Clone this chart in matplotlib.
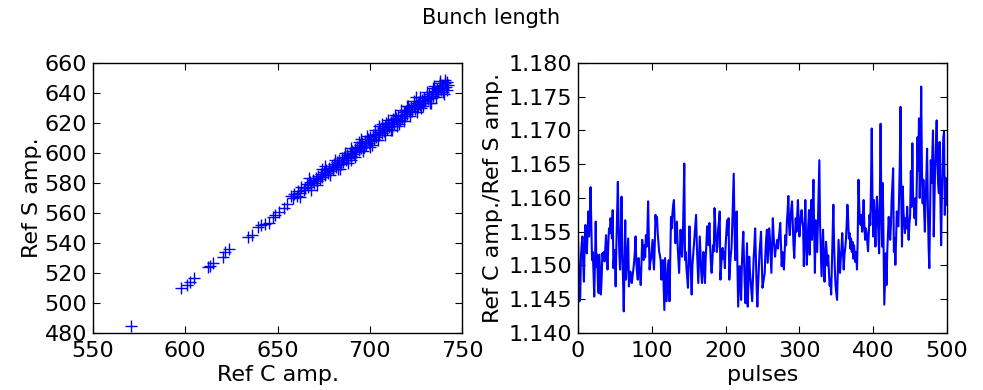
import numpy as np
import matplotlib
matplotlib.use("Agg")
import matplotlib.pyplot as plt
from matplotlib.ticker import FormatStrFormatter

# Ref S vs Ref C (left panel)
ref_c = [570.5, 597.8, 600.9, 602.7, 605.0, 612.2, 613.5, 615.3, 620.3, 621.8,
         623.6, 633.8, 636.2, 639.2, 641.0, 643.2, 645.5, 647.3, 648.7, 650.9,
         653.6, 655.4,
         657.5, 658.2, 659.0, 660.4, 661.1, 662.3, 663.0, 664.2, 665.0, 665.8,
         666.5, 667.4, 668.1, 669.0, 669.8, 670.6, 671.2, 672.0, 672.9, 673.5,
         674.3, 675.0, 675.8, 676.4, 677.3, 678.0, 678.6, 679.4, 680.1, 680.8,
         681.5, 682.2, 682.9, 683.6, 684.4, 685.0, 685.7, 686.3, 687.1, 687.8,
         688.4, 689.2, 689.9, 690.5, 691.2, 691.9, 692.6, 693.3, 693.9, 694.6,
         695.3, 696.0, 696.7, 697.3, 698.1, 698.8, 699.4, 700.1, 700.8, 701.5,
         702.2, 702.9, 703.5, 704.3, 705.0, 705.6, 706.4, 707.1, 707.7, 708.5,
         709.2, 709.9, 710.5, 711.3, 712.0, 712.6, 713.4, 714.1, 714.7, 715.5,
         716.2, 716.9, 717.5, 718.3, 719.0, 719.6, 720.4, 721.1, 721.8, 722.5,
         723.1, 723.9, 724.6, 725.2, 726.0, 726.7, 727.3, 728.1, 728.8, 729.5,
         730.1, 730.9, 731.6, 732.2, 733.0, 733.7, 734.3, 735.1, 735.8, 736.4,
         737.2, 737.9, 738.5, 739.2, 739.9, 740.6, 741.3, 742.0, 742.5,
         684.0, 695.0, 712.0, 725.0, 733.0, 705.0, 690.0, 720.0, 738.0, 728.0,
         700.0, 716.0, 676.0, 668.0, 740.0,
         662.0, 667.0, 671.5, 674.0, 678.5, 681.0, 683.0, 686.5, 688.0, 690.0,
         692.0, 694.0, 696.5, 698.5, 701.0, 703.0, 704.5, 706.5, 708.0, 710.0,
         711.5, 713.5, 715.0, 717.0, 718.5, 720.5, 722.0, 724.0, 725.5, 727.5,
         729.0, 731.0, 732.5, 734.5, 736.0, 738.0, 739.5, 741.0, 741.8, 697.0,
         709.0, 719.0, 735.0, 726.0, 712.5]
ref_s = [484.9, 509.8, 512.0, 514.2, 516.9, 523.8, 524.9, 526.7, 530.4, 533.8,
         536.0, 543.8, 545.3, 550.4, 552.0, 552.7, 553.3, 557.1, 558.7, 560.9,
         563.1, 566.0,
         571.5, 569.8, 572.9, 571.0, 574.6, 573.0, 577.0, 575.1, 576.4, 579.3,
         577.2, 580.8, 578.4, 581.9, 579.9, 583.3, 581.0, 584.5, 582.6, 586.2,
         584.0, 587.5, 585.1, 588.8, 586.9, 589.9, 587.8, 591.6, 589.4, 592.6,
         590.7, 593.9, 591.8, 595.0, 592.9, 596.4, 594.2, 597.6, 595.5, 598.8,
         596.7, 600.1, 597.9, 601.5, 599.3, 602.6, 600.4, 604.0, 601.8, 605.2,
         603.1, 606.6, 604.2, 607.9, 605.6, 609.2, 606.9, 610.5, 608.0, 611.7,
         609.3, 612.8, 610.6, 614.3, 611.8, 615.5, 613.2, 616.9, 614.4, 618.0,
         615.7, 619.3, 617.0, 620.6, 618.1, 621.9, 619.6, 623.1, 620.8, 624.4,
         622.1, 625.6, 623.3, 627.0, 624.6, 628.1, 625.8, 629.4, 627.1, 630.6,
         628.2, 631.9, 629.6, 633.1, 630.8, 634.3, 632.0, 635.6, 633.2, 636.9,
         634.4, 638.0, 635.7, 639.3, 636.8, 640.4, 638.1, 641.6, 639.2, 642.9,
         640.5, 644.1, 641.7, 645.3, 643.0, 646.4, 644.2, 647.0, 645.3,
         589.0, 609.0, 615.0, 637.0, 633.0, 618.0, 595.0, 631.0, 648.0, 630.0,
         604.0, 619.0, 591.0, 575.0, 639.0,
         570.5, 583.0, 578.8, 589.0, 585.5, 595.5, 589.5, 600.0, 593.5, 603.5,
         597.0, 607.5, 601.5, 611.5, 605.5, 615.5, 608.5, 619.0, 612.0, 622.0,
         615.0, 625.0, 618.0, 628.5, 621.5, 631.5, 624.5, 634.5, 627.0, 637.5,
         631.0, 640.5, 633.5, 643.5, 637.0, 646.5, 640.5, 648.5, 642.0, 604.0,
         620.0, 627.0, 644.5, 632.5, 622.5]

# Ref C / Ref S per pulse (right panel)
ratio = [
    1.1543, 1.1490, 1.1447, 1.1452, 1.1515, 1.1532, 1.1543, 1.1505, 1.1476, 1.1528,
    1.1560, 1.1535, 1.1518, 1.1551, 1.1580, 1.1543, 1.1572, 1.1616, 1.1562, 1.1508,
    1.1520, 1.1490, 1.1454, 1.1502, 1.1565, 1.1498, 1.1516, 1.1470, 1.1459, 1.1516,
    1.1488, 1.1457, 1.1480, 1.1518, 1.1512, 1.1520, 1.1506, 1.1525, 1.1545, 1.1515,
    1.1494, 1.1530, 1.1555, 1.1548, 1.1570, 1.1562, 1.1540, 1.1582, 1.1496, 1.1515,
    1.1523, 1.1469, 1.1530, 1.1575, 1.1624, 1.1560, 1.1518, 1.1494, 1.1550, 1.1602,
    1.1520, 1.1480, 1.1432, 1.1500, 1.1567, 1.1479, 1.1500, 1.1522, 1.1540, 1.1469,
    1.1485, 1.1491, 1.1478, 1.1474, 1.1485, 1.1494, 1.1505, 1.1520, 1.1543, 1.1505,
    1.1490, 1.1479, 1.1511, 1.1495, 1.1488, 1.1471, 1.1505, 1.1538, 1.1520, 1.1508,
    1.1530, 1.1512, 1.1545, 1.1528, 1.1550, 1.1595, 1.1540, 1.1494, 1.1505, 1.1511,
    1.1525, 1.1538, 1.1510, 1.1494, 1.1530, 1.1575, 1.1560, 1.1572, 1.1548, 1.1533,
    1.1520, 1.1515, 1.1508, 1.1479, 1.1495, 1.1508, 1.1470, 1.1434, 1.1511, 1.1480,
    1.1447, 1.1475, 1.1500, 1.1508, 1.1447, 1.1510, 1.1572, 1.1555, 1.1578, 1.1590,
    1.1597, 1.1560, 1.1533, 1.1548, 1.1565, 1.1530, 1.1510, 1.1489, 1.1520, 1.1553,
    1.1530, 1.1513, 1.1540, 1.1590, 1.1651, 1.1508, 1.1520, 1.1495, 1.1480, 1.1467,
    1.1510, 1.1558, 1.1520, 1.1490, 1.1457, 1.1500, 1.1515, 1.1528, 1.1545, 1.1560,
    1.1575, 1.1530, 1.1500, 1.1474, 1.1510, 1.1543, 1.1515, 1.1490, 1.1474, 1.1500,
    1.1520, 1.1495, 1.1474, 1.1510, 1.1535, 1.1558, 1.1540, 1.1530, 1.1563, 1.1530,
    1.1505, 1.1489, 1.1505, 1.1530, 1.1521, 1.1585, 1.1560, 1.1540, 1.1520, 1.1528,
    1.1555, 1.1565, 1.1580, 1.1479, 1.1500, 1.1515, 1.1526, 1.1510, 1.1520, 1.1496,
    1.1530, 1.1550, 1.1567, 1.1545, 1.1570, 1.1479, 1.1500, 1.1515, 1.1526, 1.1560,
    1.1600, 1.1636, 1.1560, 1.1508, 1.1540, 1.1580, 1.1500, 1.1439, 1.1470, 1.1499,
    1.1480, 1.1449, 1.1500, 1.1530, 1.1550, 1.1505, 1.1470, 1.1444, 1.1490, 1.1533,
    1.1439, 1.1480, 1.1513, 1.1490, 1.1475, 1.1462, 1.1447, 1.1480, 1.1511, 1.1530,
    1.1555, 1.1510, 1.1470, 1.1439, 1.1470, 1.1494, 1.1520, 1.1535, 1.1550, 1.1505,
    1.1467, 1.1475, 1.1482, 1.1489, 1.1520, 1.1540, 1.1553, 1.1504, 1.1530, 1.1555,
    1.1540, 1.1515, 1.1489, 1.1530, 1.1570, 1.1545, 1.1530, 1.1513, 1.1525, 1.1530,
    1.1538, 1.1525, 1.1540, 1.1550, 1.1563, 1.1530, 1.1499, 1.1520, 1.1505, 1.1494,
    1.1520, 1.1545, 1.1530, 1.1565, 1.1580, 1.1603, 1.1558, 1.1545, 1.1570, 1.1585,
    1.1595, 1.1560, 1.1530, 1.1511, 1.1540, 1.1570, 1.1550, 1.1575, 1.1597, 1.1565,
    1.1543, 1.1560, 1.1575, 1.1582, 1.1565, 1.1558, 1.1499, 1.1550, 1.1597, 1.1540,
    1.1501, 1.1530, 1.1560, 1.1582, 1.1516, 1.1560, 1.1597, 1.1538, 1.1580, 1.1627,
    1.1550, 1.1489, 1.1567, 1.1530, 1.1520, 1.1560, 1.1610, 1.1656, 1.1560, 1.1520,
    1.1484, 1.1520, 1.1553, 1.1510, 1.1476, 1.1505, 1.1535, 1.1520, 1.1500, 1.1515,
    1.1490, 1.1470, 1.1480, 1.1457, 1.1500, 1.1545, 1.1590, 1.1530, 1.1495, 1.1470,
    1.1460, 1.1449, 1.1490, 1.1538, 1.1515, 1.1489, 1.1510, 1.1525, 1.1548, 1.1520,
    1.1494, 1.1515, 1.1525, 1.1538, 1.1560, 1.1590, 1.1570, 1.1540, 1.1548, 1.1525,
    1.1540, 1.1520, 1.1535, 1.1510, 1.1530, 1.1515, 1.1505, 1.1520, 1.1494, 1.1540,
    1.1627, 1.1590, 1.1565, 1.1560, 1.1575, 1.1550, 1.1570, 1.1597, 1.1560, 1.1538,
    1.1555, 1.1548, 1.1535, 1.1521, 1.1550, 1.1575, 1.1560, 1.1620, 1.1703, 1.1600,
    1.1543, 1.1597, 1.1560, 1.1528, 1.1570, 1.1602, 1.1580, 1.1545, 1.1518, 1.1600,
    1.1710, 1.1590, 1.1528, 1.1622, 1.1530, 1.1442, 1.1480, 1.1518, 1.1471, 1.1520,
    1.1545, 1.1572, 1.1550, 1.1538, 1.1560, 1.1600, 1.1620, 1.1644, 1.1520, 1.1540,
    1.1501, 1.1540, 1.1580, 1.1565, 1.1558, 1.1600, 1.1650, 1.1735, 1.1600, 1.1528,
    1.1617, 1.1580, 1.1560, 1.1548, 1.1570, 1.1555, 1.1587, 1.1560, 1.1538, 1.1560,
    1.1575, 1.1640, 1.1587, 1.1681, 1.1600, 1.1587, 1.1570, 1.1600, 1.1560, 1.1620,
    1.1690, 1.1640, 1.1718, 1.1600, 1.1650, 1.1765, 1.1640, 1.1592, 1.1627, 1.1580,
    1.1550, 1.1600, 1.1630, 1.1673, 1.1590, 1.1530, 1.1496, 1.1580, 1.1656, 1.1622,
    1.1660, 1.1700, 1.1543, 1.1600, 1.1650, 1.1680, 1.1715, 1.1650, 1.1620, 1.1607,
    1.1683, 1.1600, 1.1530, 1.1600, 1.1650, 1.1690, 1.1698, 1.1575, 1.1630, 1.1590,
]
pulses = np.arange(len(ratio))

plt.rcParams['font.family'] = ['DejaVu Sans']
plt.rcParams['font.size'] = 16

fig = plt.figure(figsize=(9.83, 3.9), dpi=100)
fig.suptitle('Bunch length', fontsize=15, y=0.98)

ax1 = fig.add_axes([0.0946, 0.1462, 0.3754, 0.6923])
ax1.plot(ref_c, ref_s, '+', color='b', markersize=8, markeredgewidth=1.0)
ax1.set_xlim(550, 750)
ax1.set_ylim(480, 660)
ax1.set_xticks(np.arange(550, 751, 50))
ax1.set_yticks(np.arange(480, 661, 20))
ax1.set_xlabel('Ref C amp.', labelpad=3)
ax1.set_ylabel('Ref S amp.', labelpad=2)

ax2 = fig.add_axes([0.588, 0.1462, 0.3754, 0.6923])
ax2.plot(pulses, ratio, '-', color='b', linewidth=1.5)
ax2.set_xlim(0, 500)
ax2.set_ylim(1.140, 1.180)
ax2.set_xticks(np.arange(0, 501, 100))
ax2.set_yticks(np.arange(1.140, 1.1801, 0.005))
ax2.yaxis.set_major_formatter(FormatStrFormatter('%.3f'))
ax2.set_xlabel('pulses', labelpad=3)
ax2.set_ylabel('Ref C amp./Ref S amp.', labelpad=4)

for ax in (ax1, ax2):
    ax.tick_params(direction='in', top=True, right=True, length=5, width=0.8)
    ax.tick_params(axis='x', pad=6)
    ax.tick_params(axis='y', pad=4)
    for sp in ax.spines.values():
        sp.set_linewidth(1.0)

fig.savefig('out.png', dpi=100)
